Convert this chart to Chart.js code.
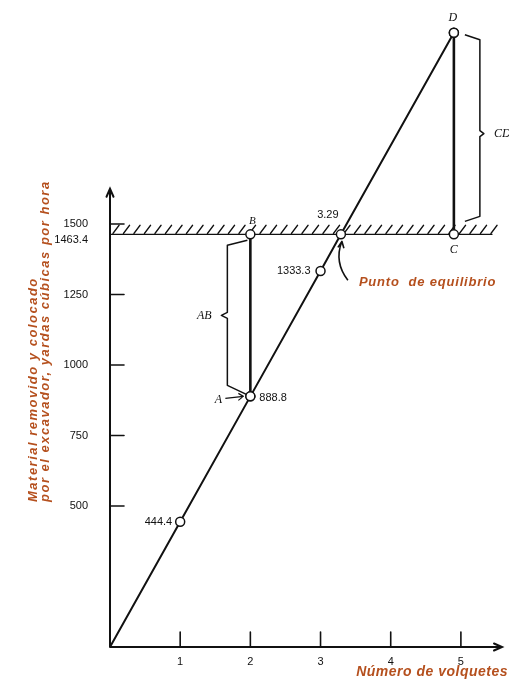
<!DOCTYPE html>
<html>
<head>
<meta charset="utf-8">
<script src="https://cdn.jsdelivr.net/npm/chart.js@4.4.1/dist/chart.umd.min.js"></script>
<style>
  html, body { margin: 0; padding: 0; background: #fff; }
</style>
</head>
<body>
<canvas id="volquetesChart" width="509" height="681"></canvas>
<script>
// trucks vs. material hauled (yd3 per hour)
const trucks = [0, 1, 2, 3];
const production = [0, 444.4, 888.8, 1333.3];
const balanceTrucks = 3.29;
const excavatorRate = 1463.4;
const pointD = { x: 4.9, y: 2178 };
const xTicks = [1, 2, 3, 4, 5];
const yTicks = [500, 750, 1000, 1250, 1500];

const ink = '#111';
const brown = '#b5501e';
const serif = 'italic 12px "Liberation Serif", "DejaVu Serif", serif';
const sans = '11px "Liberation Sans", Arial, sans-serif';

const mainLine = trucks.map((t, i) => ({ x: t, y: production[i] }));
mainLine.push({ x: balanceTrucks, y: excavatorRate });
mainLine.push(pointD);

const circle = {
  pointRadius: 4.5,
  pointBackgroundColor: '#fff',
  pointBorderColor: ink,
  pointBorderWidth: 1.5,
};

// hatching, axes with arrows and all the hand-written notes
const sketchPlugin = {
  id: 'sketch',
  beforeDatasetsDraw(chart) {
    const { ctx, scales: { x, y } } = chart;
    const x0 = x.getPixelForValue(0);
    const y0 = y.getPixelForValue(0);
    const ye = y.getPixelForValue(excavatorRate);
    ctx.save();
    ctx.strokeStyle = ink;
    ctx.lineCap = 'round';

    // hatch above the excavator capacity line
    ctx.lineWidth = 1.5;
    ctx.beginPath();
    for (let hx = x0 + 3; hx < x.getPixelForValue(5.45); hx += 10.5) {
      ctx.moveTo(hx, ye - 1);
      ctx.lineTo(hx + 6, ye - 9);
    }
    ctx.stroke();

    // axes
    ctx.lineWidth = 2;
    const yTop = y.getPixelForValue(1625);
    const xEnd = x.getPixelForValue(5.6) - 1;
    ctx.beginPath();
    ctx.moveTo(x0, y0);
    ctx.lineTo(x0, yTop);
    ctx.moveTo(x0 - 3.5, yTop + 8);
    ctx.lineTo(x0, yTop);
    ctx.lineTo(x0 + 3.5, yTop + 8);
    ctx.moveTo(x0, y0);
    ctx.lineTo(xEnd, y0);
    ctx.moveTo(xEnd - 8, y0 - 3.5);
    ctx.lineTo(xEnd, y0);
    ctx.lineTo(xEnd - 8, y0 + 3.5);
    ctx.stroke();

    // tick marks inside the plot
    ctx.lineWidth = 1.6;
    ctx.beginPath();
    xTicks.forEach((v) => {
      const px = x.getPixelForValue(v);
      ctx.moveTo(px, y0);
      ctx.lineTo(px, y0 - 15);
    });
    yTicks.forEach((v) => {
      const py = y.getPixelForValue(v);
      ctx.moveTo(x0, py);
      ctx.lineTo(x0 + 14, py);
    });
    ctx.stroke();
    ctx.restore();
  },
  afterDatasetsDraw(chart) {
    const { ctx, scales: { x, y } } = chart;
    const pt = (vx, vy) => ({ x: x.getPixelForValue(vx), y: y.getPixelForValue(vy) });
    const p1 = pt(1, production[1]);
    const A = pt(2, production[2]);
    const B = pt(2, excavatorRate);
    const p3 = pt(3, production[3]);
    const E = pt(balanceTrucks, excavatorRate);
    const C = pt(pointD.x, excavatorRate);
    const D = pt(pointD.x, pointD.y);

    ctx.save();
    ctx.fillStyle = ink;
    ctx.strokeStyle = ink;
    ctx.textBaseline = 'middle';

    // value labels
    ctx.font = sans;
    ctx.textAlign = 'right';
    ctx.fillText('444.4', p1.x - 8, p1.y);
    ctx.fillText('1333.3', p3.x - 10, p3.y);
    ctx.fillText(String(excavatorRate), x.getPixelForValue(0) - 22, B.y + 6);
    ctx.textAlign = 'left';
    ctx.fillText('888.8', A.x + 9, A.y + 2);
    ctx.textAlign = 'center';
    ctx.fillText(String(balanceTrucks), E.x - 13, E.y - 19);

    // point letters
    ctx.font = serif;
    ctx.fillText('D', D.x - 1, D.y - 15);
    ctx.fillText('C', C.x, C.y + 16);
    ctx.fillText('A', A.x - 32, A.y + 3);
    ctx.font = 'italic 11px "Liberation Serif", serif';
    ctx.fillText('B', B.x + 2, B.y - 13);
    ctx.font = serif;
    const abMid = (A.y + B.y) / 2;
    const cdMid = (C.y + D.y) / 2;
    ctx.fillText('AB', B.x - 46, abMid);
    ctx.textAlign = 'left';
    ctx.fillText('CD', D.x + 40, cdMid);

    ctx.lineWidth = 1.5;
    ctx.lineJoin = 'round';
    // brace AB
    ctx.beginPath();
    ctx.moveTo(B.x - 3, B.y + 6);
    ctx.lineTo(B.x - 23, B.y + 11);
    ctx.lineTo(B.x - 23, abMid - 3);
    ctx.lineTo(B.x - 29, abMid);
    ctx.lineTo(B.x - 23, abMid + 3);
    ctx.lineTo(B.x - 23, A.y - 11);
    ctx.lineTo(B.x - 4, A.y - 2);
    ctx.stroke();
    // brace CD
    ctx.beginPath();
    ctx.moveTo(D.x + 11, D.y + 2);
    ctx.lineTo(D.x + 26, D.y + 7);
    ctx.lineTo(D.x + 26, cdMid - 3);
    ctx.lineTo(D.x + 30, cdMid);
    ctx.lineTo(D.x + 26, cdMid + 3);
    ctx.lineTo(D.x + 26, C.y - 18);
    ctx.lineTo(D.x + 11, C.y - 13);
    ctx.stroke();

    // A arrow
    ctx.lineWidth = 1.2;
    ctx.beginPath();
    ctx.moveTo(A.x - 25, A.y + 2);
    ctx.lineTo(A.x - 7, A.y);
    ctx.moveTo(A.x - 12, A.y - 3);
    ctx.lineTo(A.x - 7, A.y);
    ctx.lineTo(A.x - 12, A.y + 4);
    ctx.stroke();

    // curved pointer to balance point
    ctx.lineWidth = 1.6;
    ctx.beginPath();
    ctx.moveTo(E.x + 7, E.y + 46);
    ctx.quadraticCurveTo(E.x - 7, E.y + 28, E.x + 1, E.y + 7);
    ctx.moveTo(E.x - 3, E.y + 13);
    ctx.lineTo(E.x + 1, E.y + 7);
    ctx.lineTo(E.x + 3, E.y + 14);
    ctx.stroke();

    // brown titles
    ctx.fillStyle = brown;
    ctx.font = 'bold italic 13px "Liberation Sans", Arial, sans-serif';
    ctx.letterSpacing = '0.8px';
    ctx.fillText('Punto  de equilibrio', E.x + 18, E.y + 48);

    ctx.font = 'bold italic 14px "Liberation Sans", Arial, sans-serif';
    ctx.letterSpacing = '0.5px';
    ctx.textAlign = 'right';
    ctx.fillText('Número de volquetes', 508, 672);

    ctx.font = 'bold italic 13px "Liberation Sans", Arial, sans-serif';
    ctx.letterSpacing = '1.5px';
    ctx.translate(0, 502);
    ctx.rotate(-Math.PI / 2);
    ctx.textAlign = 'left';
    ctx.fillText('Material removido y colocado', 0, 33);
    ctx.fillText('por el excavador, yardas cúbicas por hora', 0, 45);
    ctx.restore();
  },
};

const ctx = document.getElementById('volquetesChart').getContext('2d');
new Chart(ctx, {
  type: 'line',
  data: {
    datasets: [
      {
        data: mainLine,
        borderColor: ink,
        borderWidth: 2,
        ...circle,
        pointRadius: [0, 4.5, 4.5, 4.5, 4.5, 4.5],
      },
      {
        data: [{ x: 2, y: production[2] }, { x: 2, y: excavatorRate }],
        borderColor: ink,
        borderWidth: 2.6,
        ...circle,
      },
      {
        data: [{ x: pointD.x, y: excavatorRate }, pointD],
        borderColor: ink,
        borderWidth: 2.6,
        ...circle,
      },
      {
        data: [{ x: 0, y: excavatorRate }, { x: 5.45, y: excavatorRate }],
        borderColor: ink,
        borderWidth: 1.2,
        pointRadius: 0,
      },
    ],
  },
  options: {
    responsive: false,
    animation: false,
    clip: false,
    layout: { padding: { top: 9, right: 2, left: 0, bottom: 0 } },
    plugins: { legend: { display: false }, tooltip: { enabled: false } },
    scales: {
      x: {
        type: 'linear',
        min: 0,
        max: 5.6,
        afterBuildTicks: (s) => { s.ticks = xTicks.map((v) => ({ value: v })); },
        afterFit: (s) => { s.height = 34; },
        grid: { display: false, drawTicks: false },
        border: { display: false },
        ticks: { padding: 8, color: ink, font: { family: 'Liberation Sans', size: 11 }, maxRotation: 0, autoSkip: false },
      },
      y: {
        min: 0,
        max: 2193,
        afterBuildTicks: (s) => { s.ticks = yTicks.map((v) => ({ value: v })); },
        afterFit: (s) => { s.width = 110; },
        grid: { display: false, drawTicks: false },
        border: { display: false },
        ticks: { padding: 22, color: ink, font: { family: 'Liberation Sans', size: 11 }, autoSkip: false, callback: (v) => String(v) },
      },
    },
  },
  plugins: [sketchPlugin],
});
</script>
</body>
</html>
